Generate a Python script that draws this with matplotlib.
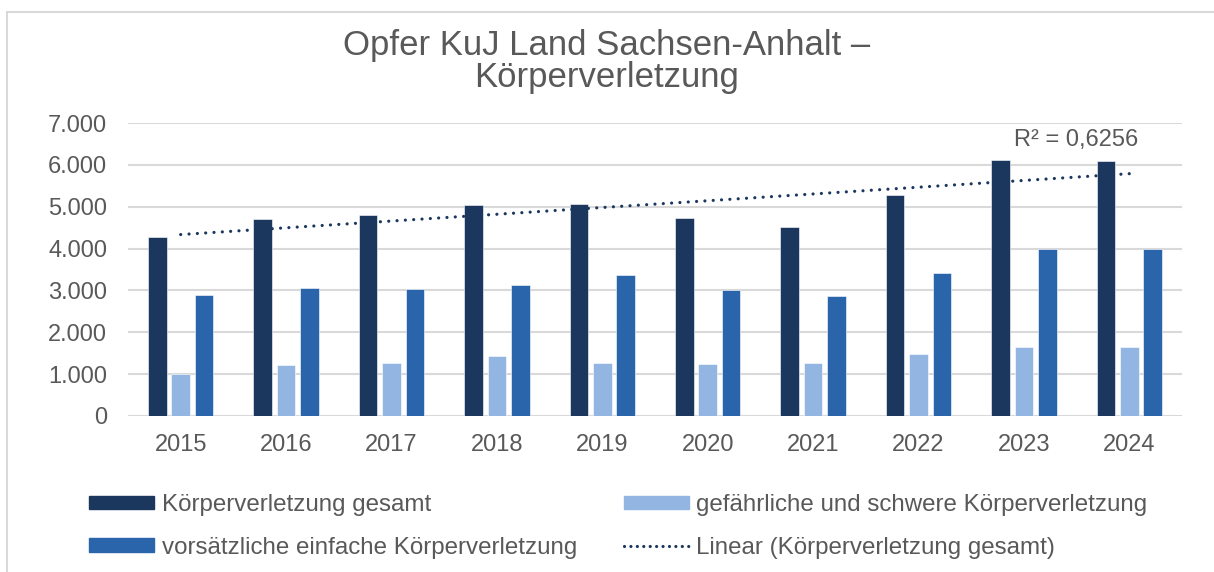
import numpy as np
import matplotlib.pyplot as plt
from matplotlib.patches import Rectangle
from matplotlib.lines import Line2D
from matplotlib.ticker import FuncFormatter

plt.rcParams['font.family'] = ['Liberation Sans', 'DejaVu Sans']

# Opferzahlen je Jahr
jahre = ['2015', '2016', '2017', '2018', '2019', '2020', '2021', '2022', '2023', '2024']
gesamt = [4280, 4705, 4800, 5040, 5065, 4730, 4510, 5285, 6115, 6090]
gefaehrlich = [995, 1220, 1265, 1425, 1265, 1240, 1260, 1480, 1655, 1650]
vorsaetzlich = [2885, 3050, 3035, 3130, 3375, 3000, 2865, 3425, 4000, 3990]
r_quadrat = '0,6256'

labels = ['Körperverletzung gesamt',
          'gefährliche und schwere Körperverletzung',
          'vorsätzliche einfache Körperverletzung',
          'Linear (Körperverletzung gesamt)']

c_dunkel = '#1b375e'
c_hell = '#92b5e2'
c_mittel = '#2a64aa'
c_text = '#595959'
c_grid = '#d9d9d9'

fig = plt.figure(figsize=(12.14, 5.72), dpi=100)
ax = fig.add_axes([128 / 1214, 1 - 416 / 572, (1182 - 128) / 1214, (416 - 123) / 572])

x = np.arange(len(jahre))
b = 0.1755
d = 0.222
ax.bar(x - d, gesamt, b, color=c_dunkel, edgecolor='white', linewidth=0.4, zorder=3)
ax.bar(x, gefaehrlich, b, color=c_hell, edgecolor='white', linewidth=0.4, zorder=3)
ax.bar(x + d, vorsaetzlich, b, color=c_mittel, edgecolor='white', linewidth=0.4, zorder=3)

# lineare Trendlinie über die Gesamtzahlen
k, m = np.polyfit(x, gesamt, 1)
ax.plot(x, k * x + m, color=c_dunkel, linewidth=2.3, linestyle=(0, (0.01, 2.6)),
        dash_capstyle='round', zorder=4)
ax.text(x[-1] - 0.5, k * x[-1] + m + 810, 'R² = ' + r_quadrat, ha='center', va='center',
        fontsize=17, color=c_text, zorder=5)

ax.set_xlim(-0.5, len(jahre) - 0.5)
ax.set_ylim(0, 7000)
ax.set_yticks(np.arange(0, 7001, 1000))
ax.yaxis.set_major_formatter(FuncFormatter(lambda v, p: f'{int(v):,}'.replace(',', '.')))
ax.set_xticks(x)
ax.set_xticklabels(jahre)
ax.tick_params(axis='both', length=0, labelsize=17, colors=c_text)
ax.tick_params(axis='x', pad=13)
ax.tick_params(axis='y', pad=15)
ax.grid(axis='y', color=c_grid, linewidth=1.5, zorder=0)
for s in ax.spines.values():
    s.set_visible(False)

fig.text(0.5, 1 - 45 / 572, 'Opfer KuJ Land Sachsen-Anhalt –', ha='center', va='center',
         fontsize=25, color=c_text)
fig.text(0.5, 1 - 78 / 572, 'Körperverletzung', ha='center', va='center',
         fontsize=25, color=c_text)

# Legende
handles = [Rectangle((0, 0), 1, 1, color=c_dunkel),
           Rectangle((0, 0), 1, 1, color=c_mittel),
           Rectangle((0, 0), 1, 1, color=c_hell),
           Line2D([], [], color=c_dunkel, linewidth=2.3, linestyle=(0, (0.01, 2.0)),
                  dash_capstyle='round')]
leg = fig.legend(handles, [labels[0], labels[2], labels[1], labels[3]], ncol=2,
                 loc='upper left', bbox_to_anchor=(89 / 1214, 1 - 494 / 572),
                 frameon=False, fontsize=17.4, handlelength=2.7, handleheight=0.5,
                 handletextpad=0.3, columnspacing=1.95, labelspacing=0.85,
                 borderaxespad=0, borderpad=0)
for t in leg.get_texts():
    t.set_color(c_text)

# Rahmen des Diagramms
fig.patches.append(Rectangle((7 / 1214, -0.1), 1.1, 1 - 12 / 572 + 0.1, transform=fig.transFigure,
                             fill=False, edgecolor=c_grid, linewidth=1.5))

fig.savefig('out.png', dpi=100)
